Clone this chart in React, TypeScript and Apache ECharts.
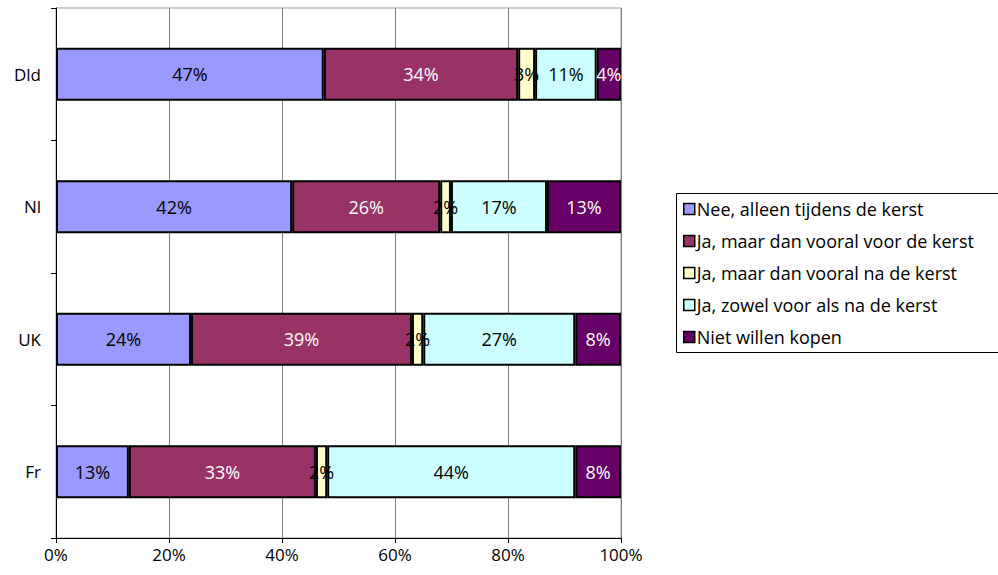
import React, { useEffect, useRef } from "react";
import * as echarts from "echarts";

const categories = ["Fr", "UK", "Nl", "Dld"];
const seriesNames = [
  "Nee, alleen tijdens de kerst",
  "Ja, maar dan vooral voor de kerst",
  "Ja, maar dan vooral na de kerst",
  "Ja, zowel voor als na de kerst",
  "Niet willen kopen",
];
const neeAlleen = [12.9, 23.9, 41.8, 47.4];
const jaVoor = [33.1, 39.1, 26.2, 34.4];
const jaNa = [2.0, 2.0, 1.9, 3.0];
const jaZowel = [43.9, 26.9, 17.0, 10.9];
const nietKopen = [8.1, 8.1, 13.1, 4.3];
const xTicks = [0, 20, 40, 60, 80, 100];

const colors = ["#9999FF", "#993366", "#FFFFCC", "#CCFFFF", "#660066"];
const labelColors = ["#000", "#fff", "#000", "#000", "#fff"];
const FONT = "Open Sans";
const FS = 17;

export default function App() {
  const ref = useRef<HTMLDivElement>(null);
  useEffect(() => {
    if (!ref.current) return;
    const chart = echarts.init(ref.current, undefined, { renderer: "svg" });
    const data = [neeAlleen, jaVoor, jaNa, jaZowel, nietKopen];
    chart.setOption({
      animation: false,
      textStyle: { fontFamily: FONT },
      grid: {
        left: 56,
        top: 8,
        right: 377,
        bottom: 37,
        show: true,
        borderColor: "#999",
        borderWidth: 1,
      },
      xAxis: {
        type: "value",
        min: xTicks[0],
        max: xTicks[xTicks.length - 1],
        interval: 20,
        axisLine: { show: true, lineStyle: { color: "#000", width: 1 } },
        axisTick: { show: true, length: 5, lineStyle: { color: "#000" } },
        axisLabel: {
          formatter: "{value}%",
          fontSize: FS,
          color: "#000",
          fontFamily: FONT,
          margin: 8,
        },
        splitLine: { show: true, lineStyle: { color: "#808080", width: 1 } },
      },
      yAxis: {
        type: "category",
        data: categories,
        axisLine: { show: true, lineStyle: { color: "#000", width: 1 } },
        axisTick: { show: true, length: 5, lineStyle: { color: "#000" } },
        axisLabel: { fontSize: FS, color: "#000", fontFamily: FONT, margin: 15 },
        splitLine: { show: false },
      },
      legend: {
        orient: "vertical",
        left: 678,
        top: 195,
        icon: "rect",
        itemWidth: 11,
        itemHeight: 11,
        itemGap: 14,
        itemStyle: { borderWidth: 1.5, borderColor: "#000" },
        textStyle: {
          fontSize: 18,
          lineHeight: 18,
          color: "#000",
          fontFamily: FONT,
          padding: [0, 0, 0, -3],
        },
        data: seriesNames,
      },
      graphic: [
        {
          type: "rect",
          shape: { x: 676.5, y: 193.5, width: 330, height: 159 },
          style: { fill: "none", stroke: "#000", lineWidth: 1 },
          silent: true,
        },
      ],
      series: seriesNames.map((name, i) => ({
        name,
        type: "bar",
        stack: "total",
        barWidth: "40%",
        data: data[i],
        itemStyle: { color: colors[i], borderColor: "#000", borderWidth: 2 },
        label: {
          show: true,
          position: "inside",
          fontSize: 18,
          fontFamily: FONT,
          color: labelColors[i],
          formatter: (p: any) => Math.round(p.value) + "%",
        },
      })),
    });
    return () => chart.dispose();
  }, []);
  return <div ref={ref} style={{ width: 998, height: 575, position: "absolute", left: 0, top: 0 }} />;
}
